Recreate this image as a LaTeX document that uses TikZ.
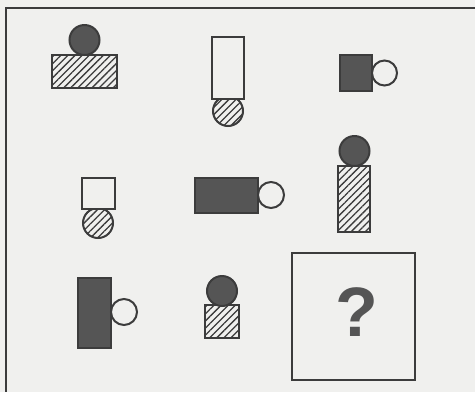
\documentclass[tikz,border=0pt]{standalone}
\usepackage{fontspec}
\setsansfont{Liberation Sans}
\usetikzlibrary{patterns.meta}
\definecolor{ink}{RGB}{60,60,60}
\definecolor{darkfill}{RGB}{85,85,85}
\definecolor{paper}{RGB}{240,240,238}
\tikzset{
  outl/.style={draw=ink, line width=2pt},
  darkshape/.style={outl, fill=darkfill},
  whiteshape/.style={outl, fill=paper},
  hatched/.style={outl, pattern={Lines[angle=45,distance=5pt,line width=1.3pt]}, pattern color=ink},
}
\begin{document}
\begin{tikzpicture}[x=1pt,y=-1pt]
\fill[paper] (0,0) rectangle (475,392);
\useasboundingbox (0,0) rectangle (475,392);
% outer frame (top and left visible)
\draw[ink, line width=2.5pt] (475,8) -- (6,8) -- (6,392);
% 1
\fill[paper] (52,55) rectangle (117,88);
\draw[hatched] (52,55) rectangle (117,88);
\draw[darkshape] (84.5,40) circle (15);
% 2
\fill[paper] (228,111) circle (15);
\draw[hatched] (228,111) circle (15);
\draw[whiteshape] (212,37) rectangle (244,99);
% 3
\draw[darkshape] (340,55) rectangle (372,91);
\draw[whiteshape] (384.5,73) circle (12.5);
% 4
\fill[paper] (98,223) circle (15);
\draw[hatched] (98,223) circle (15);
\draw[whiteshape] (82,178) rectangle (115,209);
% 5
\draw[darkshape] (195,178) rectangle (258,213);
\draw[whiteshape] (271,195) circle (13);
% 6
\fill[paper] (338,166) rectangle (370,232);
\draw[hatched] (338,166) rectangle (370,232);
\draw[darkshape] (354.5,151) circle (15);
% 7
\draw[darkshape] (78,278) rectangle (111,348);
\draw[whiteshape] (124,312) circle (13);
% 8
\fill[paper] (205,305) rectangle (239,338);
\draw[hatched] (205,305) rectangle (239,338);
\draw[darkshape] (222,291) circle (15);
% 9
\draw[ink, line width=2.8pt] (292,253) rectangle (415,380);
\node[text=darkfill, font=\sffamily\bfseries\fontsize{70}{70}\selectfont, inner sep=0pt] (q) at (357,312) {?};
\end{tikzpicture}
\end{document}
